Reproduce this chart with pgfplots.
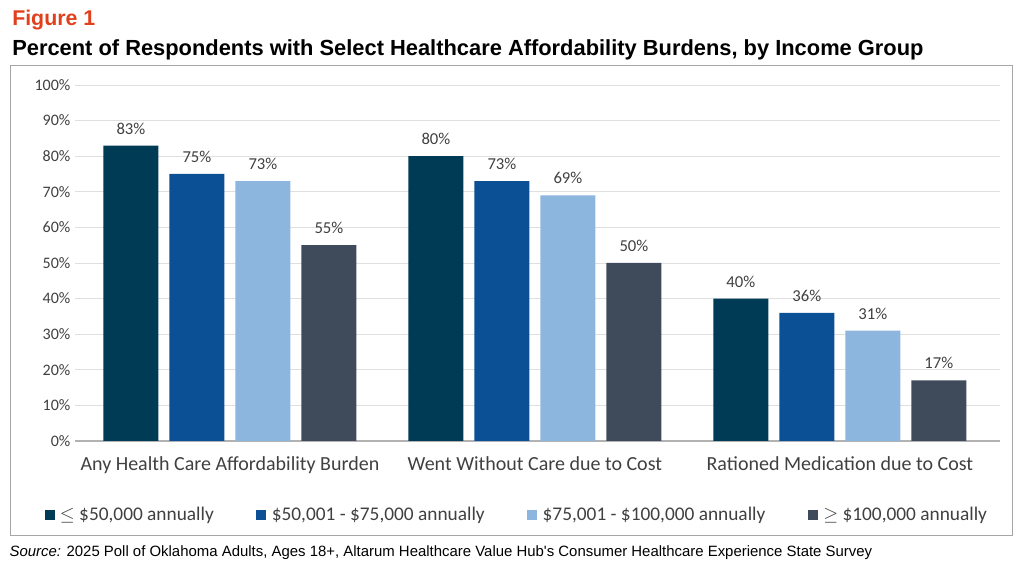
\documentclass[border=0pt]{standalone}
\usepackage{pgfplots}
\pgfplotsset{compat=1.18}
\usepackage{fontspec}
\setmainfont{Carlito}
\newfontfamily\tfont{Liberation Sans}
\definecolor{c1}{HTML}{003B55}
\definecolor{c2}{HTML}{0B4F94}
\definecolor{c3}{HTML}{8DB6DF}
\definecolor{c4}{HTML}{3F4B5A}
\definecolor{txt}{HTML}{404040}
\definecolor{red1}{HTML}{E0401C}
\begin{document}
\begin{tikzpicture}
\path[use as bounding box] (0,0) rectangle (768bp,423bp);
\node[anchor=base west,inner sep=0,font=\tfont\bfseries\fontsize{16bp}{18bp}\selectfont,text=red1] at (9bp,404bp) {Figure 1};
\node[anchor=base west,inner sep=0,font=\tfont\bfseries\fontsize{16.4bp}{19bp}\selectfont] at (9bp,381bp) {Percent of Respondents with Select Healthcare Affordability Burdens, by Income Group};
\draw[gray!70,line width=0.6bp] (7.5bp,21.75bp) rectangle (759bp,374.25bp);
\node[anchor=base west,inner sep=0,font=\tfont\fontsize{11.2bp}{13bp}\selectfont] at (7bp,5.5bp) {\textit{Source:} 2025 Poll of Oklahoma Adults, Ages 18+, Altarum Healthcare Value Hub's Consumer Healthcare Experience State Survey};
\begin{axis}[
  at={(56.25bp,92.25bp)}, anchor=south west,
  scale only axis, width=693.75bp, height=267bp,
  xmin=-0.508, xmax=2.525, ymin=0, ymax=100,
  ybar, bar width=41.25bp,
  xtick={0,1,2}, xticklabels={Any Health Care Affordability Burden,Went Without Care due to Cost,Rationed Medication due to Cost},
  ytick={0,10,...,100}, yticklabel={\pgfmathprintnumber{\tick}\%},
  /pgf/number format/assume math mode=true,
  tick label style={text=txt},
  xticklabel style={font=\fontsize{15bp}{17bp}\selectfont, yshift=-8bp},
  yticklabel style={font=\fontsize{12bp}{14bp}\selectfont},
  major tick length=0pt,
  ymajorgrids, grid style={gray!25,line width=0.6bp},
  axis x line*=bottom, axis y line*=left,
  y axis line style={draw=none},
  x axis line style={gray!60,line width=0.8bp,-},
  nodes near coords={\pgfmathprintnumber{\pgfplotspointmeta}\%},
  nodes near coords style={font=\fontsize{12.5bp}{14bp}\selectfont,text=txt,yshift=5bp},
  legend style={at={(0.478,-0.208)},anchor=center,draw=none,legend columns=4,font=\fontsize{14.5bp}{17bp}\selectfont,text=txt,/tikz/every even column/.append style={column sep=30bp},/tikz/every odd column/.append style={column sep=2bp}},
  legend image code/.code={\fill[#1,draw=none] (0bp,-3.8bp) rectangle (7.5bp,3.8bp);},
]
\addplot[fill=c1,draw=none,bar shift=-74.25bp] coordinates {(0,83) (1,80) (2,40)};
\addplot[fill=c2,draw=none,bar shift=-24.75bp] coordinates {(0,75) (1,73) (2,36)};
\addplot[fill=c3,draw=none,bar shift=24.75bp] coordinates {(0,73) (1,69) (2,31)};
\addplot[fill=c4,draw=none,bar shift=74.25bp] coordinates {(0,55) (1,50) (2,17)};
\legend{{$\leq$ \$50,000 annually},{\$50,001 - \$75,000 annually},{\$75,001 - \$100,000 annually},{$\geq$ \$100,000 annually}}
\end{axis}
\end{tikzpicture}
\end{document}
